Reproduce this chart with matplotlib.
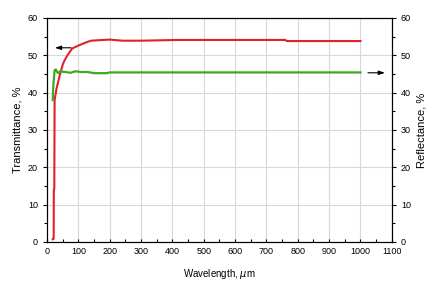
import numpy as np
import matplotlib
matplotlib.use("Agg")
from matplotlib import pyplot as plt
from matplotlib.ticker import MultipleLocator

# transmittance curve (red)
t_wl = [18, 21, 21.5, 23, 24, 30, 40, 45, 50, 55, 65, 80, 100, 120, 140, 160, 200, 240,
        300, 420, 600, 760, 765, 1000]
t_val = [0.7, 0.8, 14, 14.2, 38, 41, 44.5, 46, 47.5, 48.5, 50, 51.8, 52.6, 53.3, 53.9,
         54.0, 54.2, 53.9, 53.9, 54.1, 54.1, 54.1, 53.8, 53.8]

# reflectance curve (green)
r_wl = [18, 20, 24, 28, 32, 36, 42, 48, 60, 75, 90, 110, 130, 150, 190, 200, 400, 1000]
r_val = [38, 42, 46, 46.2, 45.5, 45.2, 45.8, 45.6, 45.5, 45.3, 45.7, 45.5, 45.5, 45.2,
         45.2, 45.4, 45.4, 45.4]

x_ticks = np.arange(0, 1101, 100)

plt.rcParams['font.family'] = ['Liberation Sans', 'DejaVu Sans']
fig = plt.figure(figsize=(4.32, 2.89), dpi=100)
ax = fig.add_axes([0.109, 0.163, 0.798, 0.775])
ax2 = ax.twinx()

ax.plot(t_wl, t_val, color='#e0202e', lw=1.5, zorder=3)
ax2.plot(r_wl, r_val, color='#3aaa1e', lw=1.6, zorder=3)

for a in (ax, ax2):
    a.set_xlim(0, 1100)
    a.set_ylim(0, 60)
    a.yaxis.set_major_locator(MultipleLocator(10))
    a.yaxis.set_minor_locator(MultipleLocator(5))

ax.set_xticks(x_ticks)
ax.xaxis.set_minor_locator(MultipleLocator(50))
ax.grid(True, color='#d8d8d8', lw=0.8)
ax.set_axisbelow(True)

ax.tick_params(axis='x', which='both', direction='in', labelsize=6.5, length=2.5, width=0.8)
ax.tick_params(axis='y', which='both', direction='out', labelsize=6.5, length=3, width=0.8)
ax.tick_params(axis='y', which='minor', length=2)
ax2.tick_params(axis='y', which='both', direction='out', labelsize=6.5, length=3, width=0.8)
ax2.tick_params(axis='y', which='minor', length=2)

ax.set_xlabel('Wavelength, $\\mu$m', fontsize=7, labelpad=8)
ax.set_ylabel('Transmittance, %', fontsize=8)
ax2.set_ylabel('Reflectance, %', fontsize=8)

# arrows pointing to the matching axis
ax.annotate('', xy=(16, 52), xytext=(85, 52),
            arrowprops=dict(arrowstyle='-|>,head_length=0.6,head_width=0.2',
                            color='black', lw=0.8, mutation_scale=6))
ax2.annotate('', xy=(1087, 45.3), xytext=(1015, 45.3),
             arrowprops=dict(arrowstyle='-|>,head_length=0.6,head_width=0.2',
                             color='black', lw=0.8, mutation_scale=6))

fig.savefig('out.png', dpi=100)
